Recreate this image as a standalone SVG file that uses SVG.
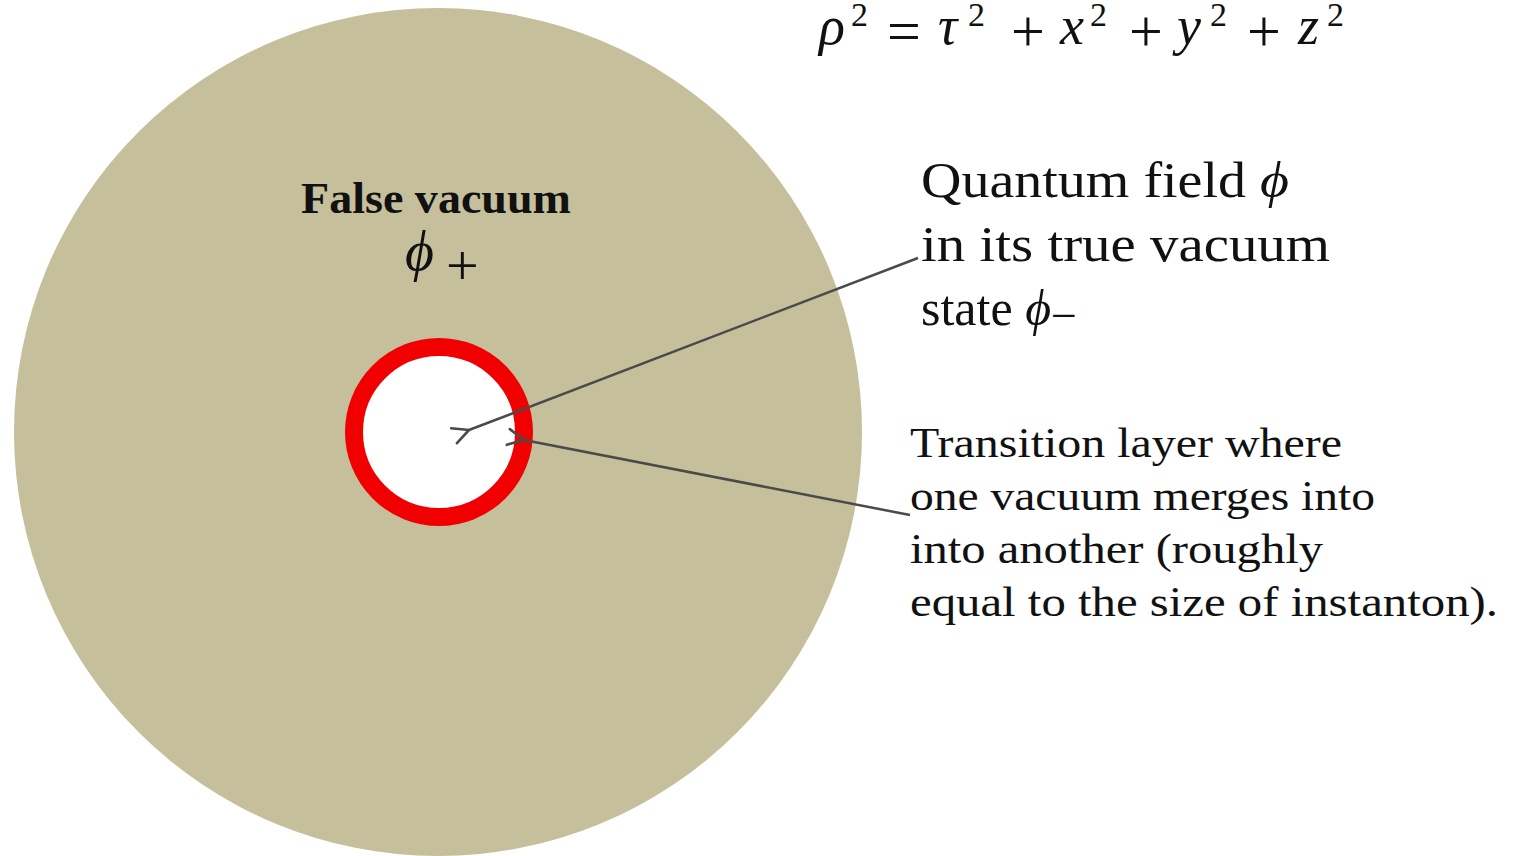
<svg xmlns="http://www.w3.org/2000/svg" width="1519" height="856" viewBox="0 0 1519 856">
<defs>
<style>
text{font-family:"Liberation Serif","Times New Roman",serif;fill:#111}
.it{font-style:italic}
.var{font-size:54px;font-style:italic}
.op{font-size:60px}
.sup{font-size:34px}
.lab1{font-size:50px}
.lab2{font-size:42px}
.conn{stroke:#4a4a4a;stroke-width:2.5;fill:none}
</style>
<marker id="chev" viewBox="0 0 24 24" refX="2" refY="12" markerWidth="24" markerHeight="24" markerUnits="userSpaceOnUse" orient="auto">
<path d="M18,4 L2,12 L18,20" fill="none" stroke="#4a4a4a" stroke-width="2.6" stroke-linecap="round" stroke-linejoin="round"/>
</marker>
</defs>
<rect width="1519" height="856" fill="#ffffff"/>
<g id="false-vacuum">
<circle cx="438" cy="432" r="424" fill="#c5bf9c"/>
<text x="436" y="213" font-size="45" font-weight="bold" text-anchor="middle" textLength="270" lengthAdjust="spacingAndGlyphs">False vacuum</text>
<text class="it" x="405" y="270" font-size="56">ϕ</text>
<text x="446" y="285" font-size="58">+</text>
</g>
<g id="true-vacuum-bubble">
<circle cx="439" cy="432" r="85" fill="#ffffff" stroke="#f00000" stroke-width="18"/>
</g>
<g id="equation">
<text class="var" x="819" y="44">ρ</text>
<text class="sup" x="851" y="26">2</text>
<text class="op" x="887" y="51">=</text>
<text class="var" x="938" y="44">τ</text>
<text class="sup" x="968" y="26">2</text>
<text class="op" x="1011" y="51">+</text>
<text class="var" x="1060" y="44">x</text>
<text class="sup" x="1090" y="26">2</text>
<text class="op" x="1129" y="51">+</text>
<text class="var" x="1177" y="44">y</text>
<text class="sup" x="1210" y="26">2</text>
<text class="op" x="1247" y="51">+</text>
<text class="var" x="1298" y="44">z</text>
<text class="sup" x="1327" y="26">2</text>
</g>
<g id="label-true-vacuum">
<text class="lab1" x="921" y="197" textLength="368" lengthAdjust="spacingAndGlyphs">Quantum field <tspan class="it">ϕ</tspan></text>
<text class="lab1" x="921" y="261" textLength="409" lengthAdjust="spacingAndGlyphs">in its true vacuum</text>
<text class="lab1" x="921" y="325">state <tspan class="it">ϕ</tspan><tspan font-size="46" dy="6">−</tspan></text>
</g>
<g id="label-transition">
<text class="lab2" x="910" y="457" textLength="432" lengthAdjust="spacingAndGlyphs">Transition layer where</text>
<text class="lab2" x="910" y="510" textLength="465" lengthAdjust="spacingAndGlyphs">one vacuum merges into</text>
<text class="lab2" x="910" y="563" textLength="413" lengthAdjust="spacingAndGlyphs">into another (roughly</text>
<text class="lab2" x="910" y="616" textLength="588" lengthAdjust="spacingAndGlyphs">equal to the size of instanton).</text>
</g>
<g id="connectors">
<line class="conn" x1="918" y1="258" x2="469" y2="430" marker-end="url(#chev)"/>
<line class="conn" x1="910" y1="515" x2="524" y2="440" marker-end="url(#chev)"/>
</g>
</svg>
